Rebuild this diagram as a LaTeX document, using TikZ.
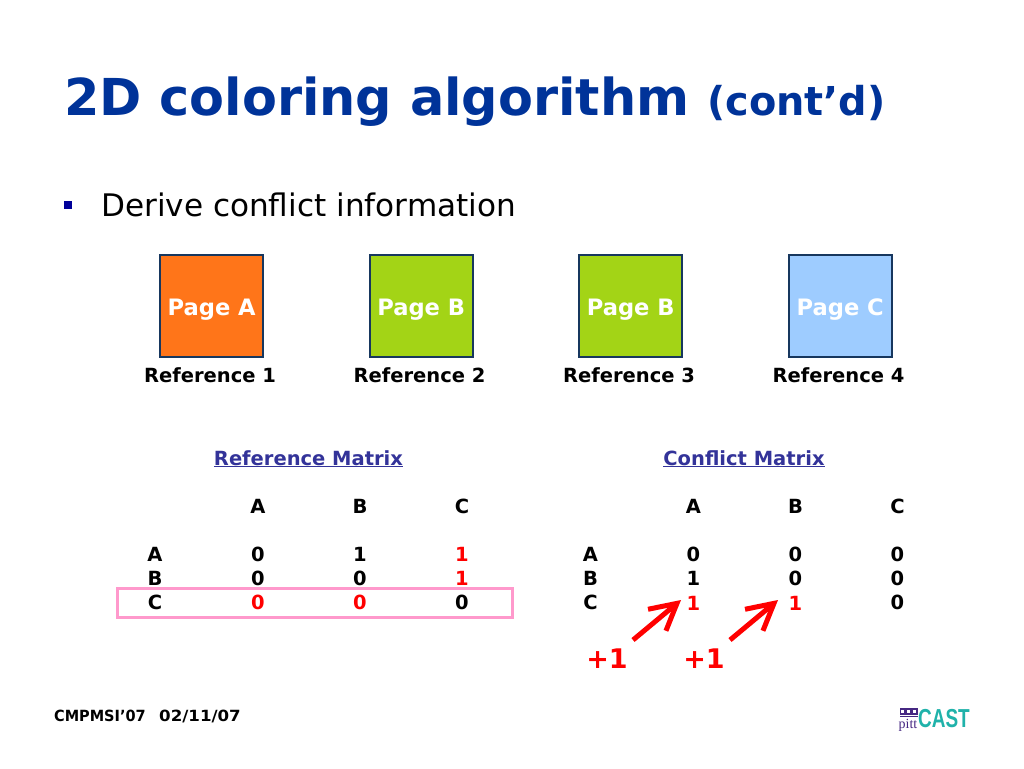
\documentclass[tikz,border=0pt]{standalone}
\usepackage{fontspec}
\setmainfont{DejaVu Sans}
\newfontfamily\logofont{Liberation Sans}
\newfontfamily\logoserif{Liberation Serif}
\usetikzlibrary{arrows.meta}
\definecolor{titleblue}{RGB}{0,51,153}
\definecolor{bullblue}{RGB}{0,0,153}
\definecolor{edgeblue}{RGB}{23,55,94}
\definecolor{pageA}{RGB}{255,117,25}
\definecolor{pageB}{RGB}{163,212,22}
\definecolor{pageC}{RGB}{158,204,255}
\definecolor{linkblue}{RGB}{51,51,153}
\definecolor{pinkbox}{RGB}{255,153,204}
\definecolor{logoteal}{RGB}{32,178,170}
\definecolor{logopurple}{RGB}{70,40,130}
\tikzset{
 x=1pt,y=-1pt,
 pagebox/.style={draw=edgeblue,line width=2pt,minimum width=102.6pt,minimum height=102.6pt,inner sep=0pt},
 pagetext/.style={anchor=base,inner sep=0pt,font=\fontsize{22.6}{26}\selectfont\bfseries,text=white},
 reflabel/.style={font=\fontsize{19.5}{23}\selectfont\bfseries,text=black,inner sep=0pt},
 cell/.style={font=\fontsize{19.5}{23}\selectfont\bfseries,text=black,inner sep=0pt},
 redcell/.style={cell,text=red},
 mtitle/.style={anchor=base,font=\fontsize{19.5}{23}\selectfont\bfseries,text=linkblue,inner sep=0pt},
 plus/.style={font=\fontsize{27}{31}\selectfont\bfseries,text=red,inner sep=0pt},
 redarrow/.style={draw=red,line width=5pt,-{Straight Barb[length=26pt,width=28pt,line width=5pt]}},
 footer/.style={anchor=base west,inner sep=0pt,font=\fontsize{15.4}{18}\selectfont\bfseries,text=black,transform shape},
}
\begin{document}
\begin{tikzpicture}
\useasboundingbox (0,0) rectangle (1024,768);
\node[anchor=base west,inner sep=0pt,text=titleblue,font=\fontsize{50.9}{58}\selectfont\bfseries] (title) at (64,115) {2D coloring algorithm};
\node[anchor=base west,inner sep=0pt,text=titleblue,font=\fontsize{39.8}{46}\selectfont\bfseries] (cont) at (707,115) {(cont’d)};
\fill[bullblue] (64,201) rectangle (72,209);
\node[anchor=base west,inner sep=0pt,font=\fontsize{31.1}{37}\selectfont,text=black] (derive) at (101,216) {Derive conflict information};

\node[pagebox,fill=pageA] (p1) at (211.7,306) {};
\node[pagebox,fill=pageB] (p2) at (421.2,306) {};
\node[pagebox,fill=pageB] (p3) at (630.7,306) {};
\node[pagebox,fill=pageC] (p4) at (840.2,306) {};
\node[pagetext] (tp1) at (211.7,315) {Page A};
\node[pagetext] (tp2) at (421.2,315) {Page B};
\node[pagetext] (tp3) at (630.7,315) {Page B};
\node[pagetext] (tp4) at (840.2,315) {Page C};
\node[reflabel] (r1) at (210,375) {Reference 1};
\node[reflabel] (r2) at (419.5,375) {Reference 2};
\node[reflabel] (r3) at (629,375) {Reference 3};
\node[reflabel] (r4) at (838.5,375) {Reference 4};

\node[mtitle] (mt1) at (308.5,465) {\underline{Reference Matrix}};
\node[mtitle] (mt2) at (744,465) {\underline{Conflict Matrix}};

\node[cell] (h1a) at (258,506) {A};
\node[cell] (h1b) at (360,506) {B};
\node[cell] (h1c) at (462,506) {C};
\node[cell] (l1a) at (155,554) {A};
\node[cell] (l1b) at (155,578) {B};
\node[cell] (l1c) at (155,602) {C};
\node[cell] (a1) at (258,554) {0};
\node[cell] (a2) at (360,554) {1};
\node[redcell] (a3) at (462,554) {1};
\node[cell] (b1) at (258,578) {0};
\node[cell] (b2) at (360,578) {0};
\node[redcell] (b3) at (462,578) {1};
\node[redcell] (c1) at (258,602) {0};
\node[redcell] (c2) at (360,602) {0};
\node[cell] (c3) at (462,602) {0};
\draw[pinkbox,line width=3pt] (117,588) rectangle (512,617);

\node[cell] (h2a) at (693.5,506) {A};
\node[cell] (h2b) at (795.5,506) {B};
\node[cell] (h2c) at (897.5,506) {C};
\node[cell] (l2a) at (590.5,554) {A};
\node[cell] (l2b) at (590.5,578) {B};
\node[cell] (l2c) at (590.5,602) {C};
\node[cell] (d1) at (693.5,554) {0};
\node[cell] (d2) at (795.5,554) {0};
\node[cell] (d3) at (897.5,554) {0};
\node[cell] (e1) at (693.5,578) {1};
\node[cell] (e2) at (795.5,578) {0};
\node[cell] (e3) at (897.5,578) {0};
\node[redcell] (f1) at (693.5,603) {1};
\node[redcell] (f2) at (795.5,603) {1};
\node[cell] (f3) at (897.5,602) {0};

\node[plus] (p1a) at (607,659) {+1};
\node[plus] (p1b) at (704,659) {+1};
\coordinate (s1) at (633,640);
\coordinate (t1) at (681,600);
\coordinate (s2) at (730,640);
\coordinate (t2) at (778,600);
\draw[redarrow] (s1) -- (t1);
\draw[redarrow] (s2) -- (t2);

\node[footer,xscale=.94] (foot) at (54,721) {CMPMSI’07};
\node[footer,xscale=1.08] (date) at (159,721) {02/11/07};

\node[inner sep=0pt,anchor=base,text=logopurple,font=\logoserif\fontsize{14}{15}\selectfont] (pitt) at (908,728) {pitt};
\foreach \xx in {900.5,906.5,912.5}{
 \draw[logopurple,line width=1.2pt] (\xx,709) rectangle ++(4.5,5);
}
\draw[logopurple,line width=1pt] (900,716.5) -- (918,716.5);
\node[inner sep=0pt,anchor=base west,text=logoteal,font=\logofont\bfseries\fontsize{26}{30}\selectfont,xscale=.73,transform shape] (cast) at (918,727) {CAST};
\end{tikzpicture}
\end{document}
